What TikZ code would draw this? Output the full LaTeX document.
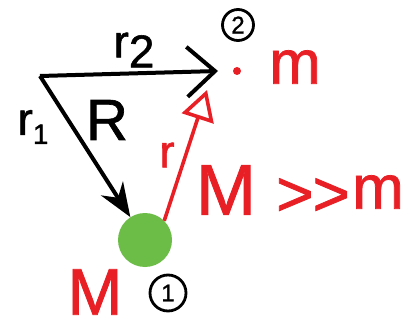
\documentclass[tikz,border=0pt]{standalone}
\usepackage{fontspec}
\setmainfont[FakeBold=1.2]{Liberation Sans}
\usetikzlibrary{arrows.meta}
\definecolor{hred}{RGB}{232,32,38}
\definecolor{hgreen}{RGB}{108,188,72}
\tikzset{
  fs/.style={font=\fontsize{#1pt}{#1pt}\selectfont, inner sep=0pt},
  blk/.style={line width=4pt, black},
  redl/.style={line width=3.6pt, hred},
  num/.style={circle, draw=black, line width=2.8pt, inner sep=0pt, minimum size=#1, font=\fontsize{24pt}{24pt}\selectfont}
}
\begin{document}
\begin{tikzpicture}[x=1pt,y=-1pt]
\useasboundingbox (0,0) rectangle (411,328);
\coordinate (O) at (40,76);
\coordinate (T2) at (218,71);
\coordinate (Tr) at (207,90);
\node[circle, fill=hgreen, minimum size=54pt, inner sep=0pt] (Mass) at (145,240) {};
\node[circle, fill=hred, minimum size=8pt, inner sep=0pt] (dot) at (237,71) {};
\draw[blk, -{Straight Barb[length=28pt,width=50pt]}] (O) -- (T2);
\draw[blk, -{Stealth[length=34pt,width=26pt]}] (O) -- (Mass);
\draw[redl, -{Triangle[open,length=30pt,width=33pt]}] (Mass.45) -- (Tr);
% labels
\node[fs=46] (r2) at (134,50) {r\raisebox{-10pt}{2}};
\node[fs=46] (r1) at (33,127) {r\raisebox{-9pt}{\fontsize{28pt}{28pt}\selectfont 1}};
\node[fs=58] (R) at (107,120) {R};
\node[fs=46, text=hred] (rr) at (167,155) {r};
\node[fs=62, text=hred] (m) at (295,67) {m};
\node[fs=72, text=hred] (M2) at (226,190) {M};
\node[fs=64, text=hred] (gg) at (313,197) {{>}\kern-1pt{>}};
\node[fs=62, text=hred] (m2) at (378,192) {m};
\node[fs=66, text=hred] (M1) at (95,292) {M};
\node[num=31pt] (n2) at (238,25) {2};
\node[num=36pt] (n1) at (168,293) {1};
\end{tikzpicture}
\end{document}
